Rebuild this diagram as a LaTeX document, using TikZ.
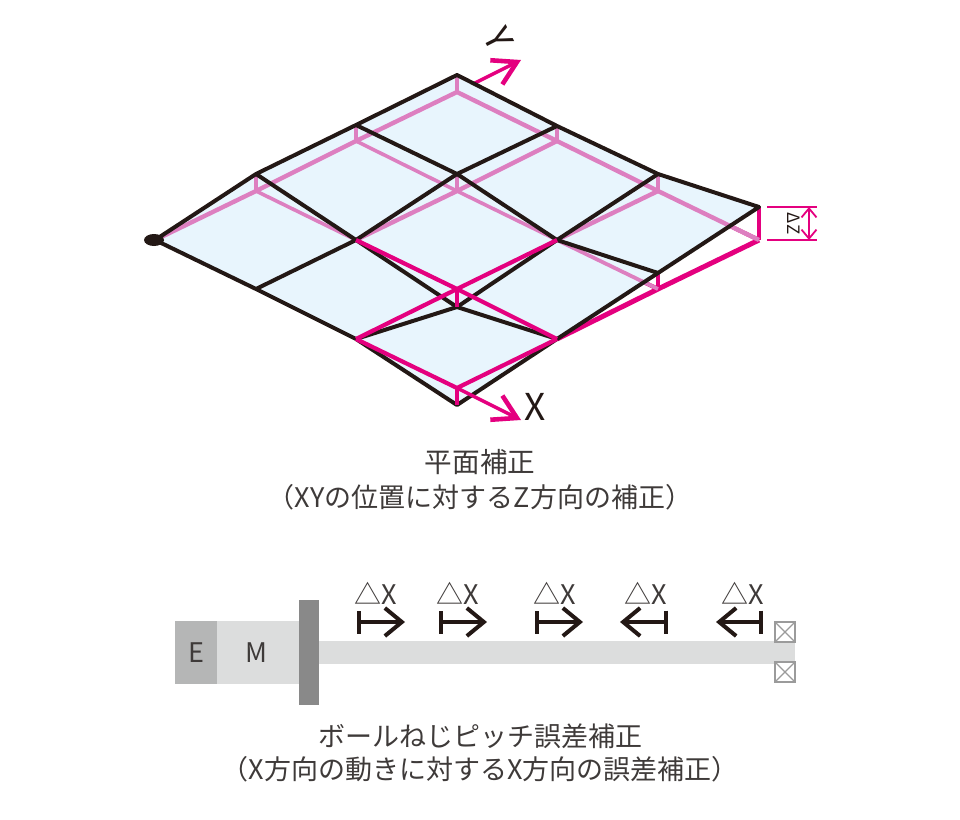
\documentclass[tikz,border=0pt]{standalone}
\usepackage{fontspec}
\setmainfont{Noto Sans CJK JP}
\usetikzlibrary{arrows.meta,shapes.geometric}
\definecolor{ink}{HTML}{231815}
\definecolor{txt}{HTML}{3E3A39}
\definecolor{strong}{HTML}{E4007F}
\definecolor{soft}{HTML}{DD7FC0}
\definecolor{plane}{HTML}{E8F5FD}
\definecolor{ggE}{HTML}{B5B6B6}
\definecolor{ggM}{HTML}{DCDDDD}
\definecolor{ggF}{HTML}{898989}
\tikzset{
  blk/.style={draw=ink,line width=4pt,line join=round},
  softl/.style={draw=soft,line width=4.4pt,line join=round},
  strongl/.style={draw=strong,line width=4.2pt,line join=round},
  axisl/.style={draw=strong,line width=3.4pt,-{Straight Barb[length=23pt,width=27pt,line width=4.6pt]}},
  dimline/.style={draw=strong,line width=1.8pt},
  dimarrow/.style={draw=strong,line width=1.8pt,{Straight Barb[length=9pt,width=15pt]}-{Straight Barb[length=9pt,width=15pt]}},
  pitch/.style={draw=ink,line width=3.6pt,{Bar[width=23pt,line width=4pt]}-{Straight Barb[length=17pt,width=28pt,line width=4pt]}},
  lbl/.style={inner sep=0pt,anchor=base,text=txt,font=\fontsize{27}{32}\selectfont},
  dx/.style={inner sep=0pt,anchor=base west,text=txt,font=\fontsize{27}{32}\selectfont},
  bearing/.style={draw=ggF!85,line width=2pt,fill=white}
}
\begin{document}
\begin{tikzpicture}[x=1pt,y=-1pt]
\useasboundingbox (0,0) rectangle (960,819);
% reference plane points P(i,j)
\coordinate (p00) at (155,240); \coordinate (p01) at (256,191); \coordinate (p02) at (356,141); \coordinate (p03) at (457,92);
\coordinate (p10) at (256,289); \coordinate (p11) at (356,240); \coordinate (p12) at (457,191); \coordinate (p13) at (557,141);
\coordinate (p20) at (356,339); \coordinate (p21) at (457,289); \coordinate (p22) at (557,240); \coordinate (p23) at (658,191);
\coordinate (p30) at (457,388); \coordinate (p31) at (557,339); \coordinate (p32) at (658,289); \coordinate (p33) at (759,240);
% measured surface points
\coordinate (b00) at (155,240); \coordinate (b01) at (256,174); \coordinate (b02) at (356,125); \coordinate (b03) at (457,75);
\coordinate (b10) at (256,289); \coordinate (b11) at (356,240); \coordinate (b12) at (457,174); \coordinate (b13) at (557,126);
\coordinate (b20) at (356,339); \coordinate (b21) at (457,307); \coordinate (b22) at (557,240); \coordinate (b23) at (658,174);
\coordinate (b30) at (457,405); \coordinate (b31) at (557,339); \coordinate (b32) at (658,273); \coordinate (b33) at (759,207);
% free ends
\coordinate (yend) at (521,60); \coordinate (xend) at (521,420);
% Y axis under the surface
\draw[axisl] (p03) -- (yend);
% thick front edge
\draw[strongl,line width=5pt] (p31) -- (p32) -- (p33);
\draw[strongl] (p32) -- (p22);
\draw[strongl] (p33) -- (p23);
\draw[strongl] (p33) -- (b33);
\draw[strongl] (p32) -- (b32);
% surface
\fill[plane] (b00) -- (b01) -- (b02) -- (b03) -- (b13) -- (b23) -- (b33) -- (b32) -- (b31) -- (b30) -- (b20) -- (b10) -- cycle;
% plane behind the surface
\draw[softl] (p00) -- (p01) -- (p02) -- (p03) -- (p13) -- (p23) -- (p33);
\draw[softl,line width=3.8pt] (p22) -- (p32);
\draw[softl,line width=3.6pt] (p01) -- (p11) -- (p21);
\draw[softl,line width=3.6pt] (p02) -- (p12) -- (p22);
\draw[softl] (p11) -- (p12) -- (p13);
\draw[softl] (p22) -- (p23);
\draw[softl,line width=3.2pt] (p01) -- (b01) (p02) -- (b02) (p03) -- (b03) (p12) -- (b12) (p13) -- (b13) (p23) -- (b23);
\draw[softl,line width=1.2pt] (p00) -- (p10) -- (p20) (p10) -- (p11);
% surface mesh
\draw[blk] (b00) -- (b01) -- (b02) -- (b03) -- (b13) -- (b23) -- (b33) -- (b32) -- (b31) -- (b30) -- (b20) -- (b10) -- cycle;
\draw[blk] (b01) -- (b11) -- (b21) -- (b31);
\draw[blk] (b02) -- (b12) -- (b22) -- (b32);
\draw[blk] (b10) -- (b11) -- (b12) -- (b13);
\draw[blk] (b20) -- (b21) -- (b22) -- (b23);
% plane in front of the surface
\draw[strongl] (p11) -- (p21) -- (p31);
\draw[strongl] (p20) -- (p21) -- (p22);
\draw[strongl] (p20) -- (p30) -- (p31);
\draw[strongl,line width=3.2pt] (p21) -- (b21) (p30) -- (b30);
\draw[axisl] (p30) -- (xend);
% origin
\node[fill=ink,ellipse,minimum width=20pt,minimum height=12pt,inner sep=0pt] (origin) at (154,240) {};
% axis labels
\node[lbl,font=\fontsize{37}{37}\selectfont,text=ink] (xlabel) at (535,420) {X};
\node[inner sep=0pt,text=ink,font=\fontsize{36}{36}\selectfont,rotate=-63] (ylabel) at (499,39) {Y};
% delta z
\coordinate (dzaL) at (767,207); \coordinate (dzaR) at (817,207);
\coordinate (dzbL) at (767,240); \coordinate (dzbR) at (817,240);
\coordinate (dzu) at (809,207); \coordinate (dzd) at (809,240);
\draw[dimline] (dzaL) -- (dzaR);
\draw[dimline] (dzbL) -- (dzbR);
\draw[dimarrow] (dzu) -- (dzd);
\node[inner sep=0pt,rotate=-90,text=ink,font=\fontsize{17}{17}\selectfont] (dz) at (794,224) {Δ\kern1ptZ};
% captions
\node[lbl,font=\fontsize{27.6}{32}\selectfont] (cap1) at (480,472) {平面補正};
\node[lbl] (cap2) at (480,507) {（XYの位置に対するZ方向の補正）};
\node[lbl] (cap3) at (480,746) {ボールねじピッチ誤差補正};
\node[lbl] (cap4) at (480,779) {（X方向の動きに対するX方向の誤差補正）};
% ball screw
\node[fill=ggM,inner sep=0pt,minimum width=476pt,minimum height=23pt,anchor=north west] (rod) at (319,641) {};
\node[fill=ggE,inner sep=0pt,minimum width=42pt,minimum height=63pt,anchor=north west] (enc) at (175,621) {};
\node[fill=ggM,inner sep=0pt,minimum width=82pt,minimum height=63pt,anchor=north west] (mot) at (217,621) {};
\node[fill=ggF,inner sep=0pt,minimum width=20pt,minimum height=105pt,anchor=north west] (flange) at (299,600) {};
\node[lbl] (elabel) at (196,662) {E};
\node[lbl] (mlabel) at (256,662) {M};
% bearings
\foreach \y in {622,662}{
  \draw[bearing] (775,\y) rectangle (795,\y+20);
  \draw[bearing,fill=none,line width=1.2pt] (775,\y) -- (795,\y+20) (775,\y+20) -- (795,\y);
}
% pitch errors
\foreach \n/\a/\b in {a/357/405,b/439/487,c/535/583,d/668/620,e/763/716}{
  \coordinate (s\n) at (\a,622); \coordinate (t\n) at (\b,622);
  \draw[pitch] (s\n) -- (t\n);
}
\node[dx] (dxa) at (354,604) {△X};
\node[dx] (dxb) at (436,604) {△X};
\node[dx] (dxc) at (533,604) {△X};
\node[dx] (dxd) at (624,604) {△X};
\node[dx] (dxe) at (721,604) {△X};
\end{tikzpicture}
\end{document}
